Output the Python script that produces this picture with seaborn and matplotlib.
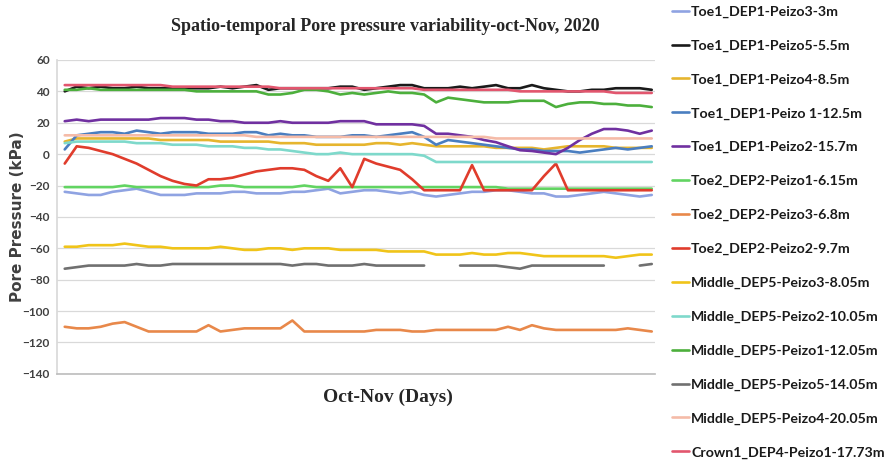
import numpy as np
import pandas as pd
import matplotlib
matplotlib.use("Agg")
import matplotlib.pyplot as plt
import seaborn as sns

nan = np.nan
days = list(range(50))

series_names = [
    "Toe1_DEP1-Peizo3-3m",
    "Toe1_DEP1-Peizo5-5.5m",
    "Toe1_DEP1-Peizo4-8.5m",
    "Toe1_DEP1-Peizo 1-12.5m",
    "Toe1_DEP1-Peizo2-15.7m",
    "Toe2_DEP2-Peizo1-6.15m",
    "Toe2_DEP2-Peizo3-6.8m",
    "Toe2_DEP2-Peizo2-9.7m",
    "Middle_DEP5-Peizo3-8.05m",
    "Middle_DEP5-Peizo2-10.05m",
    "Middle_DEP5-Peizo1-12.05m",
    "Middle_DEP5-Peizo5-14.05m",
    "Middle_DEP5-Peizo4-20.05m",
    "Crown1_DEP4-Peizo1-17.73m",
]

colors = ["#8FA3E2", "#1A1A1A", "#E6B52E", "#4A7EC0", "#7030A0", "#62D462",
          "#E8884A", "#E03C2C", "#F0C419", "#7ED9CB", "#4CAF3C", "#707070",
          "#F5BBA8", "#E2566E"]

toe1_p3 = [-24, -25, -26, -26, -24, -23, -22, -24, -26, -26, -26, -25, -25, -25, -24, -24, -25, -25, -25, -24,
           -24, -23, -22, -25, -24, -23, -23, -24, -25, -24, -26, -27, -26, -25, -24, -24, -23, -23, -24, -25,
           -25, -27, -27, -26, -25, -24, -25, -26, -27, -26]
toe1_p5 = [40, 43, 42, 43, 42, 42, 43, 42, 42, 42, 42, 42, 42, 43, 42, 43, 44, 41, 42, 42,
           42, 42, 42, 43, 43, 41, 42, 43, 44, 44, 42, 42, 42, 43, 42, 43, 44, 42, 42, 44,
           42, 41, 40, 40, 41, 41, 42, 42, 42, 41]
toe1_p4 = [8, 10, 10, 10, 10, 10, 10, 10, 9, 9, 9, 9, 9, 8, 8, 8, 8, 8, 7, 7,
           7, 6, 6, 6, 6, 6, 7, 7, 6, 7, 6, 5, 5, 5, 5, 5, 4, 4, 4, 4,
           3, 4, 5, 5, 5, 5, 4, 4, 4, 4]
toe1_p1 = [3, 12, 13, 14, 14, 13, 15, 14, 13, 14, 14, 14, 13, 13, 13, 14, 14, 12, 13, 12,
           12, 11, 11, 11, 12, 12, 11, 12, 13, 14, 11, 6, 9, 8, 7, 6, 5, 4, 3, 3,
           2, 2, 2, 1, 2, 3, 4, 3, 4, 5]
toe1_p2 = [21, 22, 21, 22, 22, 22, 22, 22, 23, 23, 23, 22, 22, 21, 21, 20, 20, 20, 21, 20,
           20, 20, 20, 21, 21, 21, 19, 19, 19, 19, 18, 13, 13, 12, 11, 9, 7.6, 5, 2.5, 2,
           1, 0, 4, 9, 13, 16, 16, 15, 13, 15]
toe2_p1 = [-21, -21, -21, -21, -21, -20, -21, -21, -21, -21, -21, -21, -21, -20, -20, -21, -21, -21, -21, -21,
           -20, -21, -21, -21, -21, -21, -21, -21, -21, -21, -21, -21, -21, -21, -21, -21, -21, -22, -22, -22,
           -22, -22, -22, -22, -22, -22, -22, -22, -22, -22]
toe2_p3 = [-110, -111, -111, -110, -108, -107, -110, -113, -113, -113, -113, -113, -109, -113, -112, -111, -111, -111, -111, -106,
           -113, -113, -113, -113, -113, -113, -112, -112, -112, -113, -113, -112, -112, -112, -112, -112, -112, -110, -112, -109,
           -111, -112, -112, -112, -112, -112, -112, -111, -112, -113]
toe2_p2 = [-6, 5, 4, 2, 0, -3, -6, -10, -14, -17, -19, -20, -16, -16, -15, -13, -11, -10, -9, -9,
           -10, -14, -17, -9, -21, -3, -6, -8, -10, -16, -23, -23, -23, -23, -7, -23, -23, -23, -23, -23,
           -14, -6, -23, -23, -23, -23, -23, -23, -23, -23]
mid_p3 = [-59, -59, -58, -58, -58, -57, -58, -59, -59, -60, -60, -60, -60, -59, -60, -61, -61, -60, -60, -61,
          -60, -60, -60, -61, -61, -61, -61, -62, -62, -62, -62, -64, -64, -64, -63, -64, -64, -63, -63, -64,
          -65, -65, -65, -65, -65, -65, -66, -65, -64, -64]
mid_p2 = [7, 8, 8, 8, 8, 8, 7, 7, 7, 6, 6, 6, 5, 5, 5, 4, 4, 3, 3, 2,
          1, 0, 0, 1, 0, 0, 0, 0, 0, 0, -1, -5, -5, -5, -5, -5, -5, -5, -5, -5,
          -5, -5, -5, -5, -5, -5, -5, -5, -5, -5]
mid_p1 = [41, 41, 42, 41, 41, 41, 41, 41, 41, 41, 41, 40, 40, 40, 40, 40, 40, 38, 38, 39,
          41, 41, 40, 38, 39, 38, 39, 40, 39, 39, 38, 33, 36, 35, 34, 33, 33, 33, 34, 34,
          34, 30, 32, 33, 33, 32, 32, 31, 31, 30]
mid_p5 = [-73, -72, -71, -71, -71, -71, -70, -71, -71, -70, -70, -70, -70, -70, -70, -70, -70, -70, -70, -71,
          -70, -70, -71, -71, -71, -70, -71, -71, -71, -71, -71, nan, nan, -71, -71, -71, -71, -72, -73, -71,
          -71, -71, -71, -71, -71, -71, nan, nan, -71, -70]
mid_p4 = [12, 12, 12, 12, 12, 12, 12, 12, 12, 12, 12, 12, 12, 12, 12, 12, 11, 11, 11, 11,
          11, 11, 11, 11, 11, 11, 11, 11, 11, 11, 11, 11, 11, 11, 11, 11, 10, 10, 10, 10,
          10, 10, 10, 10, 10, 10, 10, 10, 10, 10]
crown_p1 = [44, 44, 44, 44, 44, 44, 44, 44, 44, 43, 43, 43, 43, 43, 43, 43, 43, 43, 42, 42,
            42, 42, 42, 42, 42, 42, 42, 42, 42, 42, 41, 41, 41, 41, 41, 41, 41, 41, 40, 40,
            40, 40, 40, 40, 40, 40, 39, 39, 39, 39]

values = [toe1_p3, toe1_p5, toe1_p4, toe1_p1, toe1_p2, toe2_p1, toe2_p3, toe2_p2,
          mid_p3, mid_p2, mid_p1, mid_p5, mid_p4, crown_p1]

# long-form table; segments split at gaps so lines break there
rows = []
for name, vals in zip(series_names, values):
    seg = 0
    for d, v in zip(days, vals):
        if np.isnan(v):
            seg += 1
            continue
        rows.append({"day": d, "pressure": v, "sensor": name, "unit": f"{name}#{seg}"})
df = pd.DataFrame(rows)

sns.set_theme(style="white")
plt.rcParams["font.family"] = ["DejaVu Sans"]

fig = plt.figure(figsize=(8.86, 4.65), dpi=100)
ax = fig.add_axes([0.064, 0.196, 0.675, 0.675])

palette = dict(zip(series_names, colors))
sns.lineplot(data=df, x="day", y="pressure", hue="sensor", units="unit",
             estimator=None, hue_order=series_names, palette=palette,
             linewidth=1.9, ax=ax, sort=True)

ax.set_xlim(-0.67, 49.25)
ax.set_ylim(-140, 60)
ax.set_yticks(np.arange(-140, 61, 20))
ax.set_xticks([])
ax.yaxis.grid(True, color="#D9D9D9", linewidth=0.9)
ax.set_axisbelow(True)
for s in ["top", "right"]:
    ax.spines[s].set_visible(False)
ax.spines["left"].set_color("#D9D9D9")
ax.spines["bottom"].set_color("#BFBFBF")
ax.tick_params(axis="y", length=0, pad=5)
for lab in ax.get_yticklabels():
    lab.set_family(["Lato", "DejaVu Sans"])
    lab.set_fontweight("bold")
    lab.set_fontsize(8.5)
    lab.set_color("#404040")

ax.set_ylabel("Pore Pressure (kPa)", fontsize=11, fontweight="bold", color="#404040")
ax.yaxis.set_label_coords(-0.053, 0.5)
ax.set_xlabel("")
fig.text(0.438, 0.145, "Oct-Nov (Days)", ha="center", va="center",
         family=["Liberation Serif", "DejaVu Serif"], fontweight="bold", fontsize=14)
fig.text(0.435, 0.942, "Spatio-temporal Pore pressure variability-oct-Nov, 2020",
         ha="center", va="center", family=["Liberation Serif", "DejaVu Serif"],
         fontweight="bold", fontsize=13)

handles, labels = ax.get_legend_handles_labels()
ax.get_legend().remove()
leg = fig.legend(handles, labels, loc="upper left", bbox_to_anchor=(0.752, 1.0),
                 frameon=False, handlelength=1.2, handletextpad=0.15,
                 labelspacing=1.53, borderaxespad=0,
                 prop={"family": ["Lato", "DejaVu Sans"],
                       "weight": "bold", "size": 10.2})
for t in leg.get_texts():
    t.set_color("#1A1A1A")

fig.savefig("out.png", dpi=100)
